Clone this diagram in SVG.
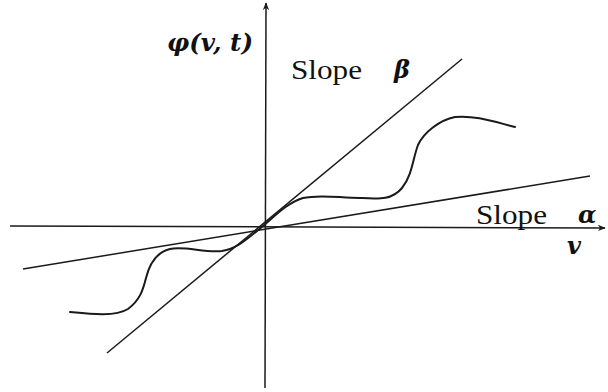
<svg xmlns="http://www.w3.org/2000/svg" width="608" height="392" viewBox="0 0 608 392">
<style>
.ax{stroke:#1a1a1a;stroke-width:1.5;fill:none}
.ln{stroke:#1a1a1a;stroke-width:1.5;fill:none}
.cv{stroke:#1a1a1a;stroke-width:2;fill:none;stroke-linecap:round;stroke-linejoin:round}
.t{fill:#111}
.m{font-style:italic;fill:#111}
</style>
<defs>
<marker id="ah" viewBox="0 0 10 10" refX="9" refY="5" markerWidth="8" markerHeight="8" markerUnits="userSpaceOnUse" orient="auto">
<path d="M0,1 L10,5 L0,9 L3,5 Z" fill="#1a1a1a"/>
</marker>
</defs>
<g id="axes">
<line class="ax" x1="10" y1="226" x2="605" y2="228" marker-end="url(#ah)"/>
<line class="ax" x1="265" y1="388" x2="266" y2="3" marker-end="url(#ah)"/>
</g>
<g id="connectors">
<line class="ln" x1="107" y1="353" x2="462" y2="59"/>
<line class="ln" x1="23" y1="269" x2="590" y2="176"/>
<path class="cv" d="M70,312 C90,314 115,317 128,309 C140,300 143,290 146,278 C150,262 157,252 170,249 C185,246 205,253 222,251 C236,249 246,240 263,226 C275,216 287,203 303,198 C320,194 340,198 360,198 C380,199 392,200 402,188 C412,176 413,158 418,145 C424,132 440,120 455,117 C475,115 495,122 515,127"/>
</g>
<g id="labels">
<text class="m" font-family="DejaVu Serif, serif" font-weight="bold" x="167" y="51" font-size="24" textLength="86" lengthAdjust="spacingAndGlyphs">φ(v, t)</text>
<text class="t" font-family="Liberation Serif, serif" x="291" y="79" font-size="28" textLength="71" lengthAdjust="spacingAndGlyphs">Slope</text>
<text class="m" font-family="DejaVu Serif, serif" font-weight="bold" x="394" y="78" font-size="24">β</text>
<text class="t" font-family="Liberation Serif, serif" x="476" y="224" font-size="28" textLength="71" lengthAdjust="spacingAndGlyphs">Slope</text>
<text class="m" font-family="DejaVu Serif, serif" font-weight="bold" x="578" y="223" font-size="24">α</text>
<text class="m" font-family="DejaVu Serif, serif" font-weight="bold" x="567" y="254" font-size="24">v</text>
</g>
</svg>
